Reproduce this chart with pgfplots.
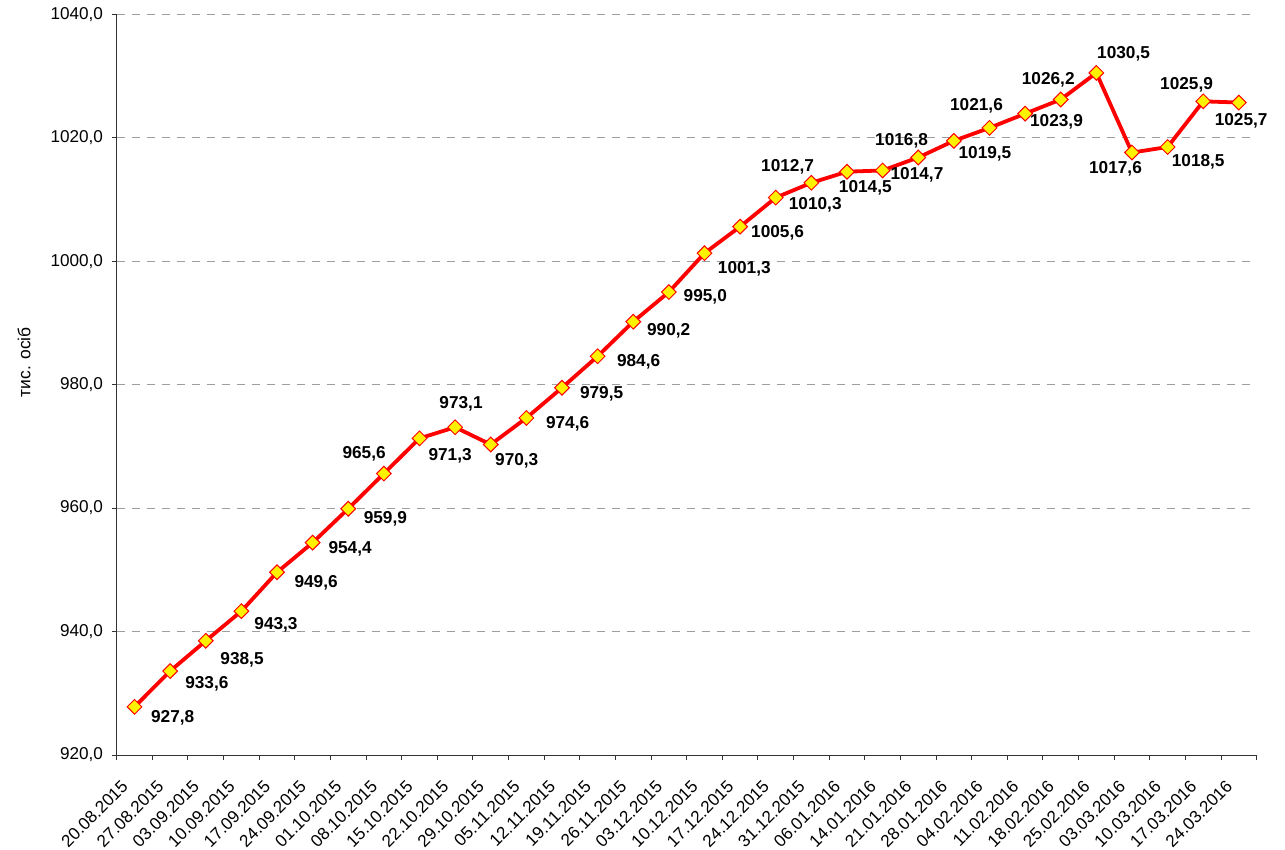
\documentclass[border=0pt]{standalone}
\usepackage{pgfplots}
\usepackage{pgfplotstable}
\pgfplotsset{compat=1.18}
\usepackage{fontspec}
\setmainfont{Liberation Sans}
\pgfplotstableread{
x y lab dx dy
0 927.8 927,8 38.2 -11.4
1 933.6 933,6 36.7 -13.2
2 938.5 938,5 36.3 -19.1
3 943.3 943,3 34.6 -13.7
4 949.6 949,6 39.1 -10.8
5 954.4 954,4 37.5 -6.1
6 959.9 959,9 37.1 -10.3
7 965.6 965,6 -19.8 19.8
8 971.3 971,3 30.6 -17.4
9 973.1 973,1 5.9 23.5
10 970.3 970,3 26.0 -16.2
11 974.6 974,6 41.2 -5.7
12 979.5 979,5 39.6 -5.9
13 984.6 984,6 41.0 -5.4
14 990.2 990,2 35.4 -9.6
15 995.0 995,0 36.4 -4.8
16 1001.3 1001,3 39.8 -15.7
17 1005.6 1005,6 37.4 -6.2
18 1010.3 1010,3 39.5 -6.8
19 1012.7 1012,7 -23.8 16.0
20 1014.5 1014,5 18.3 -16.0
21 1014.7 1014,7 34.4 -4.0
22 1016.8 1016,8 -16.7 16.4
23 1019.5 1019,5 31.1 -12.6
24 1021.6 1021,6 -13.0 21.8
25 1023.9 1023,9 31.4 -8.4
26 1026.2 1026,2 -12.5 20.1
27 1030.5 1030,5 27.2 19.3
28 1017.6 1017,6 -16.5 -15.9
29 1018.5 1018,5 30.6 -14.4
30 1025.9 1025,9 -16.7 17.0
31 1025.7 1025,7 2.3 -18.5
}\datatable
\begin{document}
\begin{tikzpicture}
\path[use as bounding box] (0,0) rectangle (1285bp,850bp);
\begin{axis}[
  at={(116.7bp,95bp)}, anchor=south west,
  scale only axis, width=1140bp, height=740.7bp,
  xmin=-0.5, xmax=31.5, ymin=920, ymax=1040,
  ytick={920,940,...,1040},
  xtick={-0.5,0.5,...,31.5}, xticklabels={},
  extra x ticks={0,...,31},
  extra x tick labels={20.08.2015,27.08.2015,03.09.2015,10.09.2015,17.09.2015,24.09.2015,01.10.2015,08.10.2015,15.10.2015,22.10.2015,29.10.2015,05.11.2015,12.11.2015,19.11.2015,26.11.2015,03.12.2015,10.12.2015,17.12.2015,24.12.2015,31.12.2015,06.01.2016,14.01.2016,21.01.2016,28.01.2016,04.02.2016,11.02.2016,18.02.2016,25.02.2016,03.03.2016,10.03.2016,17.03.2016,24.03.2016},
  extra x tick style={major tick length=0pt},
  axis x line=bottom, axis y line=left,
  axis line style={-, black!80, line width=1bp},
  tick align=outside, major tick length=5bp,
  tick style={black!80, line width=1bp},
  ymajorgrids,
  grid style={black!38, dash pattern=on 8bp off 7bp, line width=1bp},
  yticklabel style={/pgf/number format/fixed, /pgf/number format/fixed zerofill, /pgf/number format/precision=1, /pgf/number format/use comma, /pgf/number format/1000 sep={}, anchor=east, inner sep=0pt, xshift=-8.5bp},
  /pgf/number format/assume math mode=true,
  ticklabel style={font=\fontsize{17.2}{19}\selectfont, text=black},
  xticklabel style={xshift=-14bp, yshift=-24bp, rotate=45, anchor=north east, inner sep=0pt},
  ylabel={тис. осіб},
  ylabel style={at={(axis description cs:-0.0813,0.53)}, anchor=center, font=\fontsize{17.5}{19}\selectfont},
  clip=false,
]
\addplot[red, line width=3.8bp, mark=square*, mark size=5.2bp,
  mark options={fill=yellow, draw=red, line width=1bp, rotate=45},
  visualization depends on={\thisrow{dx} \as \myDX},
  visualization depends on={\thisrow{dy} \as \myDY},
  nodes near coords,
  point meta=explicit symbolic,
  every node near coord/.append style={anchor=center, xshift=\myDX bp, yshift=\myDY bp, font=\bfseries\fontsize{17.3}{20}\selectfont, text=black, inner sep=0pt},
] table[x=x, y=y, meta=lab] {\datatable};
\end{axis}
\end{tikzpicture}
\end{document}
